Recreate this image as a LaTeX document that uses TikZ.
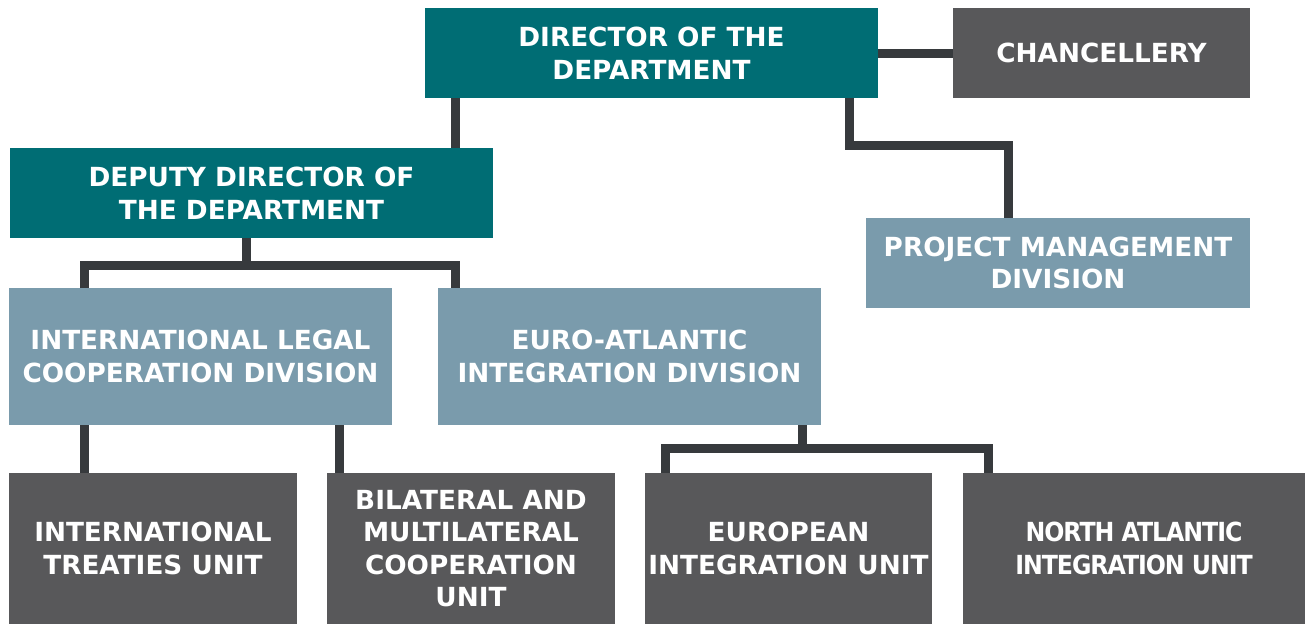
\documentclass[tikz,border=0pt]{standalone}
\usepackage{fontspec}
\setmainfont{DejaVu Sans}[BoldFont=DejaVu Sans Bold]
\newfontfamily\narrowfont{DejaVu Sans Bold}[FakeStretch=0.9,LetterSpace=-4]
\definecolor{teal}{HTML}{006D74}
\definecolor{darkbox}{HTML}{58585A}
\definecolor{lightbox}{HTML}{7A9BAC}
\definecolor{conn}{HTML}{373A3D}
\begin{document}
\begin{tikzpicture}[x=1pt,y=-1pt,
  box/.style={anchor=north west,inner sep=0pt,outer sep=0pt,align=center,
    text=white,font=\bfseries\fontsize{26.3}{32.5}\selectfont},
  tealbox/.style={box,fill=teal},
  graybox/.style={box,fill=darkbox},
  bluebox/.style={box,fill=lightbox},
  link/.style={draw=conn,line width=9pt,line cap=butt,line join=miter}]
\useasboundingbox (0,0) rectangle (1305,624);
\clip (0,0) rectangle (1305,624);
\node[tealbox,minimum width=453pt,minimum height=90pt] (dir) at (425,8) {DIRECTOR OF THE\\DEPARTMENT};
\node[graybox,minimum width=297pt,minimum height=90pt] (chan) at (953,8) {CHANCELLERY};
\node[tealbox,minimum width=483pt,minimum height=90pt] (dep) at (10,148) {DEPUTY DIRECTOR OF\\THE DEPARTMENT};
\node[bluebox,minimum width=384pt,minimum height=90pt] (proj) at (866,218) {PROJECT MANAGEMENT\\DIVISION};
\node[bluebox,minimum width=383pt,minimum height=137pt] (ilc) at (9,288) {INTERNATIONAL LEGAL\\COOPERATION DIVISION};
\node[bluebox,minimum width=383pt,minimum height=137pt] (eai) at (438,288) {EURO-ATLANTIC\\INTEGRATION DIVISION};
\node[graybox,minimum width=288pt,minimum height=151pt] (itu) at (9,473) {INTERNATIONAL\\TREATIES UNIT};
\node[graybox,minimum width=288pt,minimum height=151pt] (bil) at (327,473) {BILATERAL AND\\MULTILATERAL\\COOPERATION\\UNIT};
\node[graybox,minimum width=287pt,minimum height=151pt] (eu) at (645,473) {EUROPEAN\\INTEGRATION UNIT};
\node[graybox,minimum width=342pt,minimum height=151pt,font=\narrowfont\fontsize{26.3}{32.5}\selectfont] (na) at (963,473) {NORTH ATLANTIC\\INTEGRATION UNIT};
% connectors
\draw[link] (dir.east) -- (chan.west);
\draw[link] ([xshift=30pt]dir.south west) -- ([xshift=445pt]dep.north west);
\draw[link] ([xshift=-29pt]dir.south east) -- ++(0,47) -| ([xshift=142pt]proj.north west);
\draw[link] ([xshift=236pt]dep.south west) -- ++(0,27);
\draw[link] ([xshift=75pt]ilc.north west) -- ++(0,-23) -| ([xshift=17pt]eai.north west);
\draw[link] ([xshift=75pt]ilc.south west) -- ([xshift=75pt]itu.north west);
\draw[link] ([xshift=330pt]ilc.south west) -- ([xshift=12pt]bil.north west);
\draw[link] ([xshift=364pt]eai.south west) -- ++(0,23);
\draw[link] ([xshift=20pt]eu.north west) -- ++(0,-25) -| ([xshift=25pt]na.north west);
\end{tikzpicture}
\end{document}
